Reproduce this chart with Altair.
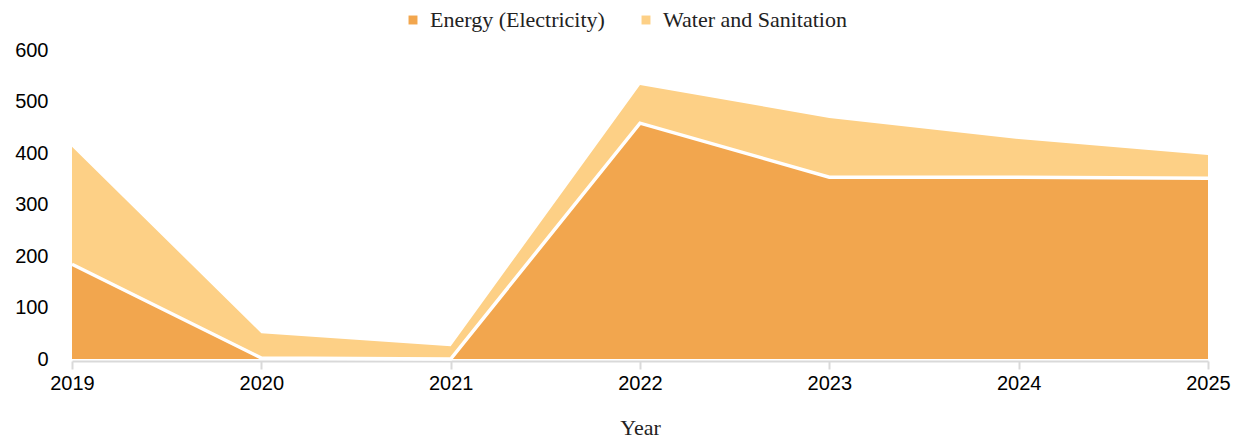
import altair as alt
import pandas as pd

years = [2019, 2020, 2021, 2022, 2023, 2024, 2025]
energy = [184, 2, 0, 458, 353, 353, 351]
water = [228, 48, 25, 74, 115, 74, 45]
series = ["Energy (Electricity)", "Water and Sanitation"]
colors = ["#F2A64E", "#FDD086"]

rows = []
for i, y in enumerate(years):
    rows.append({"Year": y, "Series": series[0], "Value": energy[i], "ord": 0})
    rows.append({"Year": y, "Series": series[1], "Value": water[i], "ord": 1})
df = pd.DataFrame(rows)
edf = pd.DataFrame({"Year": years, "Value": energy})

xenc = alt.X("Year:Q", scale=alt.Scale(domain=[2019, 2025], nice=False, zero=False),
             axis=alt.Axis(values=years, format="d", title="Year", grid=False, offset=2,
                           labelFlush=False,
                           domainColor="#D9D9D9", domainWidth=2, tickColor="#D9D9D9",
                           tickWidth=2, tickSize=8, labelFont="Liberation Sans",
                           labelFontSize=20, labelColor="#000000", labelPadding=4,
                           titleFont="Liberation Serif", titleFontSize=22,
                           titleFontWeight="normal", titleColor="#222222", titlePadding=24))

area = alt.Chart(df).mark_area(opacity=1).encode(
    x=xenc,
    y=alt.Y("Value:Q", stack="zero", scale=alt.Scale(domain=[0, 600], nice=False),
            axis=alt.Axis(values=[0, 100, 200, 300, 400, 500, 600], title=None, grid=False,
                          domain=False, ticks=False, labelFont="Liberation Sans",
                          labelFontSize=20, labelColor="#000000", labelPadding=24)),
    color=alt.Color("Series:N", scale=alt.Scale(domain=series, range=colors),
                    legend=alt.Legend(title=None, orient="none", direction="horizontal",
                                      legendX=330, legendY=-41, symbolType="square",
                                      symbolSize=80, symbolStrokeWidth=0,
                                      labelFont="Liberation Serif", labelFontSize=22,
                                      labelColor="#222222", columnPadding=30,
                                      labelOffset=6, labelLimit=400)),
    order=alt.Order("ord:Q"),
)

line = alt.Chart(edf).mark_line(color="white", strokeWidth=3.5).encode(
    x=alt.X("Year:Q"),
    y=alt.Y("Value:Q"),
)

chart = alt.layer(area, line).properties(
    width=1136, height=309,
    autosize=alt.AutoSizeParams(type="none"),
    padding={"left": 72, "top": 50, "right": 31, "bottom": 81},
).configure_view(stroke=None)

chart.save("out.html", embed_options={"renderer": "svg", "actions": False})
